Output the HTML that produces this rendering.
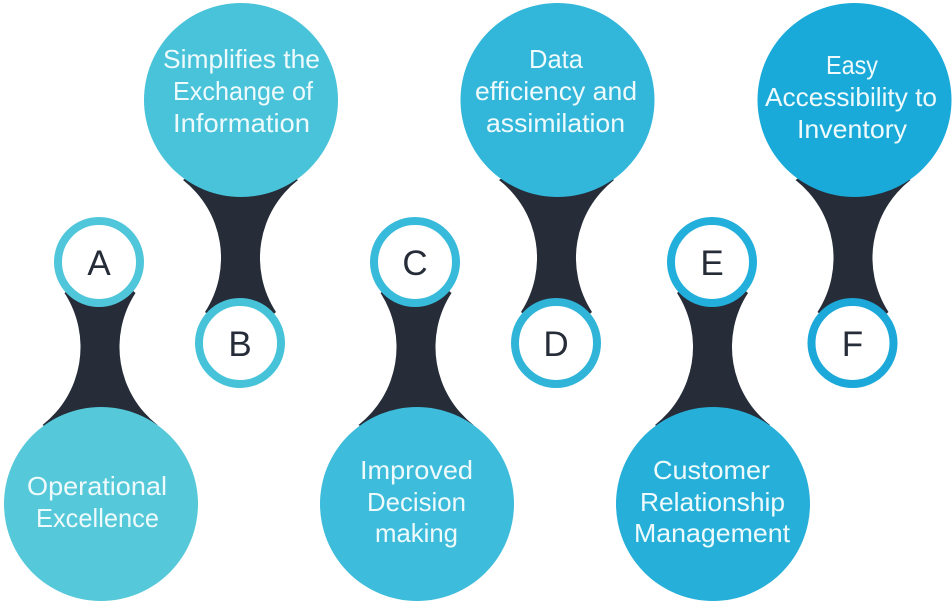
<!DOCTYPE html>
<html>
<head>
<meta charset="utf-8">
<style>
  html, body { margin: 0; padding: 0; background: #ffffff; }
  svg { display: block; }
  .t { font-family: "Liberation Sans", "DejaVu Sans", sans-serif; font-size: 26px; fill: #eefafc; text-anchor: middle; }
  .l { font-family: "Liberation Sans", "DejaVu Sans", sans-serif; font-size: 35px; fill: #262d39; text-anchor: middle; }
</style>
</head>
<body>
<svg width="952" height="605" viewBox="0 0 952 605" xmlns="http://www.w3.org/2000/svg">
  <defs>
    <path id="conn" d="M -35.5,31 A 99 99 0 0 1 -57.5,163 L 0,200 L 57.5,163 A 99 99 0 0 1 35.5,31 L 0,0 Z" fill="#262d39"/>
  </defs>

  <!-- Connectors -->
  <use href="#conn" transform="translate(100,262)"/>
  <use href="#conn" transform="translate(240.5,343) scale(1,-1)"/>
  <use href="#conn" transform="translate(416,262)"/>
  <use href="#conn" transform="translate(556.5,343) scale(1,-1)"/>
  <use href="#conn" transform="translate(712.5,262)"/>
  <use href="#conn" transform="translate(853,343) scale(1,-1)"/>

  <!-- Big circles -->
  <circle cx="101" cy="504" r="97" fill="#55c8d9"/>
  <circle cx="241" cy="100" r="97" fill="#49c3d9"/>
  <circle cx="417" cy="504" r="97" fill="#3ebcdb"/>
  <circle cx="557.5" cy="100" r="97" fill="#32b6da"/>
  <circle cx="713" cy="504" r="97" fill="#26b0d9"/>
  <circle cx="854.5" cy="100" r="97" fill="#1aaad9"/>

  <!-- Small circles -->
  <circle cx="99" cy="262" r="41" fill="#ffffff" stroke="#50c6da" stroke-width="8"/>
  <circle cx="240" cy="343" r="41" fill="#ffffff" stroke="#47c3d9" stroke-width="8"/>
  <circle cx="415" cy="262" r="41" fill="#ffffff" stroke="#38badb" stroke-width="8"/>
  <circle cx="556" cy="343" r="41" fill="#ffffff" stroke="#30b5d9" stroke-width="8"/>
  <circle cx="712" cy="262" r="41" fill="#ffffff" stroke="#22afdb" stroke-width="8"/>
  <circle cx="852.5" cy="343" r="41" fill="#ffffff" stroke="#1ca9da" stroke-width="8"/>

  <!-- Letters -->
  <text class="l" x="99" y="275">A</text>
  <text class="l" x="240" y="356">B</text>
  <text class="l" x="415" y="275">C</text>
  <text class="l" x="556" y="356">D</text>
  <text class="l" x="712" y="275">E</text>
  <text class="l" x="852.5" y="356">F</text>

  <!-- A -->
  <text class="t" x="97" y="495" textLength="140" lengthAdjust="spacingAndGlyphs">Operational</text>
  <text class="t" x="97.5" y="527" textLength="123" lengthAdjust="spacingAndGlyphs">Excellence</text>

  <!-- B -->
  <text class="t" x="241.5" y="68" textLength="157" lengthAdjust="spacingAndGlyphs">Simplifies the</text>
  <text class="t" x="243" y="100" textLength="140" lengthAdjust="spacingAndGlyphs">Exchange of</text>
  <text class="t" x="241.5" y="132" textLength="137" lengthAdjust="spacingAndGlyphs">Information</text>

  <!-- C -->
  <text class="t" x="416.5" y="479" textLength="113" lengthAdjust="spacingAndGlyphs">Improved</text>
  <text class="t" x="416.5" y="511" textLength="99" lengthAdjust="spacingAndGlyphs">Decision</text>
  <text class="t" x="416.5" y="542" textLength="83" lengthAdjust="spacingAndGlyphs">making</text>

  <!-- D -->
  <text class="t" x="556" y="68" textLength="54" lengthAdjust="spacingAndGlyphs">Data</text>
  <text class="t" x="556" y="100" textLength="162" lengthAdjust="spacingAndGlyphs">efficiency and</text>
  <text class="t" x="555.5" y="132" textLength="139" lengthAdjust="spacingAndGlyphs">assimilation</text>

  <!-- E -->
  <text class="t" x="711.5" y="479" textLength="117" lengthAdjust="spacingAndGlyphs">Customer</text>
  <text class="t" x="712.5" y="511" textLength="145" lengthAdjust="spacingAndGlyphs">Relationship</text>
  <text class="t" x="712" y="542" textLength="156" lengthAdjust="spacingAndGlyphs">Management</text>

  <!-- F -->
  <text class="t" x="852" y="74" textLength="52" lengthAdjust="spacingAndGlyphs">Easy</text>
  <text class="t" x="851" y="106" textLength="172" lengthAdjust="spacingAndGlyphs">Accessibility to</text>
  <text class="t" x="852" y="138" textLength="110" lengthAdjust="spacingAndGlyphs">Inventory</text>
</svg>
</body>
</html>
